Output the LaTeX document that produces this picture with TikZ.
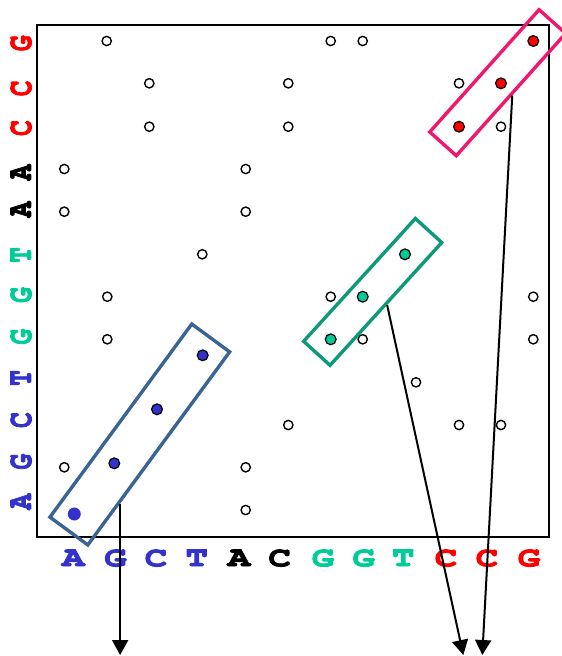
\documentclass[tikz,border=0pt]{standalone}
\usepackage[T1]{fontenc}
\usetikzlibrary{arrows.meta,calc}

\definecolor{baseblue}{HTML}{3333CC}
\definecolor{basegreen}{HTML}{00CC99}
\definecolor{basered}{HTML}{FF0000}
\definecolor{boxblue}{HTML}{3A6494}
\definecolor{boxgreen}{HTML}{0E9A78}
\definecolor{boxred}{HTML}{F0186E}

% heavier letters: fill and stroke the glyph outlines
\newcommand\heavyglyph[1]{\special{pdf:literal direct 2 Tr}#1\special{pdf:literal direct 0 Tr}}

\begin{document}
\begin{tikzpicture}[x=1pt,y=-1pt,
  base/.style={text=#1, font=\fontfamily{pcr}\bfseries\fontsize{32}{32}\selectfont,
    inner sep=0pt, anchor=center, line width=0.9pt},
  colbase/.style={base=#1, xscale=1.17, yscale=0.88},
  rowbase/.style={base=#1, rotate=90, xscale=0.82, yscale=1.08},
  hit/.style={circle, draw=black, line width=1.4pt, fill=white, minimum size=9.3pt, inner sep=0pt},
  match/.style={circle, draw=black, line width=1.2pt, fill=#1, minimum size=10.8pt, inner sep=0pt},
  band/.style={draw=#1, line width=3.4pt, rectangle, inner sep=0pt},
  pointer/.style={line width=2pt, -{Triangle[length=15pt,width=16pt]}},
]
\useasboundingbox (0,0) rectangle (562,656);
\clip (0,0) rectangle (562,656);

% dot-plot frame
\draw[line width=1.8pt] (37.3,25.3) rectangle (549.3,536.7);

% sequence along the bottom
\foreach \ch/\xx/\cl [count=\i] in {A/73.3/baseblue, G/115.5/baseblue, C/156/baseblue, T/196.7/baseblue,
    A/239/black, C/279.7/black, G/323/basegreen, G/363.7/basegreen, T/403.3/basegreen,
    C/446/basered, C/487/basered, G/529/basered}
  \node[colbase=\cl] (col\i) at (\xx,558.2) {\heavyglyph{\ch}};

% sequence up the left side
\foreach \ch/\yy/\cl [count=\i] in {G/43.3/basered, C/88.3/basered, C/128/basered,
    A/172.5/black, A/209.5/black, T/255/basegreen, G/295/basegreen, G/336.7/basegreen,
    T/378/baseblue, C/420/baseblue, G/461.7/baseblue, A/501.7/baseblue}
  \node[rowbase=\cl] (row\i) at (21.2,\yy) {\heavyglyph{\ch}};

% unmatched dots
\foreach \xx/\yy [count=\i] in {106.7/41, 330.7/41, 362.7/41,
    149.3/83.3, 288.3/83.3, 459/83.3,
    149.3/126.7, 288.3/126.7, 501/126.7,
    64.3/169, 245.7/169,
    64.3/211.7, 245.7/211.7,
    202.3/254.3,
    107.3/296.7, 330.7/296.7, 533.3/296.7,
    107.3/339.3, 362.7/339.3, 533.3/339.3,
    416/382.3,
    288.3/425, 459/425, 501/425,
    64.3/467.3, 245.7/467.3,
    245.7/510}
  \node[hit] (dot\i) at (\xx,\yy) {};

% diagonal runs
\node[match=basered] (red1) at (459,126.7) {};
\node[match=basered] (red2) at (501,83.3) {};
\node[match=basered] (red3) at (533.3,41) {};
\node[match=basegreen] (green1) at (330.7,339.3) {};
\node[match=basegreen] (green2) at (362.7,296.7) {};
\node[match=basegreen] (green3) at (405,254.3) {};
\node[match=baseblue, draw=none, minimum size=13pt] (blue1) at (74.3,514) {};
\node[match=baseblue] (blue2) at (114.3,463.3) {};
\node[match=baseblue] (blue3) at (157,409.3) {};
\node[match=baseblue] (blue4) at (202.7,355.3) {};

% boxes round the runs
\node[band=boxblue, rotate=53.7, minimum width=239.6pt, minimum height=47pt] (bluebox) at (139.8,434.5) {};
\node[band=boxgreen, rotate=47.7, minimum width=166pt, minimum height=35.7pt] (greenbox) at (372.7,291.9) {};
\node[band=boxred, rotate=48.2, minimum width=164pt, minimum height=35.6pt] (redbox) at (497.7,82.7) {};

% arrows leading out of the boxes
\coordinate (blueout) at ($(bluebox.south west)!0.222!(bluebox.south east)$);
\coordinate (blueend) at (119.3,655);
\coordinate (greenend) at (463.3,655);
\coordinate (redend) at (482.3,655);
\draw[pointer] (blueout) -- (blueout |- blueend);
\draw[pointer] (greenbox.south) -- (greenend);
\draw[pointer] (redbox.south) -- (redend);
\end{tikzpicture}
\end{document}
